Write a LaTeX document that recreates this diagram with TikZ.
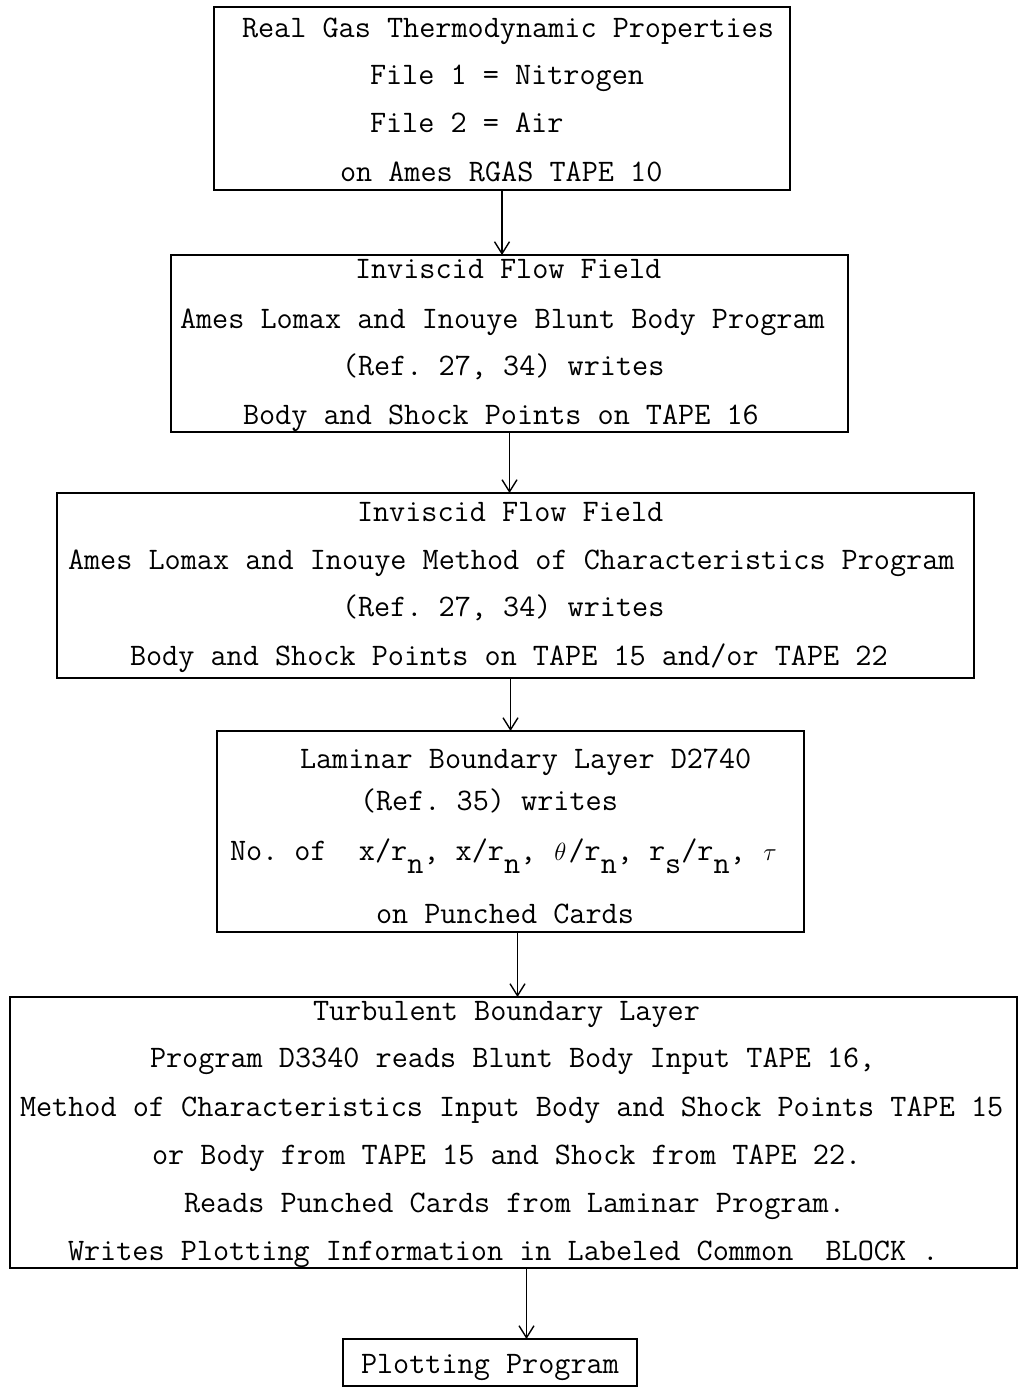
\documentclass[tikz,border=0pt]{standalone}
\usepackage{fontspec}
\usetikzlibrary{arrows.meta}
\newcommand{\sub}[1]{\raisebox{-13pt}{#1}}
\newcommand{\gk}[1]{\makebox[0.515em]{$#1$}}
\begin{document}
\begin{tikzpicture}[x=1pt,y=-1pt,
  box/.style={draw, line width=1.6pt, inner sep=0pt, outer sep=0pt},
  txt/.style={anchor=base west, inner sep=0pt, outer sep=0pt,
    font=\ttfamily\fontsize{31.3pt}{34pt}\selectfont\frenchspacing},
  arr/.style={line width=1.4pt,
    -{Straight Barb[length=12pt,width=15pt,line width=1.4pt]}}]
\useasboundingbox (0,0) rectangle (1021,1388);

% boxes
\node[box, minimum width=576pt, minimum height=183pt] (b1) at (502,98.5) {};
\node[box, minimum width=677pt, minimum height=177pt] (b2) at (509.5,343.5) {};
\node[box, minimum width=917pt, minimum height=185pt] (b3) at (515.5,585.5) {};
\node[box, minimum width=587pt, minimum height=201pt] (b4) at (510.5,831.5) {};
\node[box, minimum width=1007pt, minimum height=271pt] (b5) at (513.5,1132.5) {};
\node[box, minimum width=294pt, minimum height=47pt] (b6) at (490,1362.5) {};

% box 1
\node[txt] (t11) at (242,38) {Real Gas Thermodynamic Properties};
\node[txt] (t12) at (370,85) {File 1 = Nitrogen};
\node[txt] (t13) at (370,133) {File 2 = Air};
\node[txt] (t14) at (340,182) {on Ames RGAS TAPE 10};

% box 2
\node[txt] (t21) at (355,278) {Inviscid Flow Field};
\node[txt] (t22) at (180,328) {Ames Lomax and Inouye Blunt Body Program};
\node[txt] (t23) at (342,375) {(Ref. 27, 34) writes};
\node[txt] (t24) at (243,424) {Body and Shock Points on TAPE 16};

% box 3
\node[txt] (t31) at (357,521) {Inviscid Flow Field};
\node[txt] (t32) at (68,569) {Ames Lomax and Inouye Method of Characteristics Program};
\node[txt] (t33) at (342,616) {(Ref. 27, 34) writes};
\node[txt] (t34) at (130,665) {Body and Shock Points on TAPE 15 and/or TAPE 22};

% box 4
\node[txt] (t41) at (300,768) {Laminar Boundary Layer D2740};
\node[txt] (t42) at (360,810) {(Ref. 35) writes};
\node[txt] (t43) at (230,860) {No. of\ \ x/r\sub{n}, x/r\sub{n}, \gk{\theta}/r\sub{n}, r\sub{s}/r\sub{n}, \gk{\tau}};
\node[txt] (t44) at (376,923) {on Punched Cards};

% box 5
\node[txt] (t51) at (313,1020) {Turbulent Boundary Layer};
\node[txt] (t52) at (150,1067) {Program D3340 reads Blunt Body Input TAPE 16,};
\node[txt] (t53) at (20,1116) {Method of Characteristics Input Body and Shock Points TAPE 15};
\node[txt] (t54) at (152,1164) {or Body from TAPE 15 and Shock from TAPE 22.};
\node[txt] (t55) at (184,1212) {Reads Punched Cards from Laminar Program.};
\node[txt] (t56) at (68,1260) {Writes Plotting Information in Labeled Common\ \ BLOCK .};

% box 6
\node[txt] (t61) at (361,1373) {Plotting Program};

% connectors
\draw[arr] (b1.south) -- (b1.south |- b2.north);
\draw[arr] (b2.south) -- (b2.south |- b3.north);
\draw[arr] (b4.north |- b3.south) -- (b4.north);
\draw[arr] ([xshift=7pt]b4.south) -- ([xshift=7pt]b4.south |- b5.north);
\draw[arr] ([xshift=13pt]b5.south) -- ([xshift=13pt]b5.south |- b6.north);
\end{tikzpicture}
\end{document}
